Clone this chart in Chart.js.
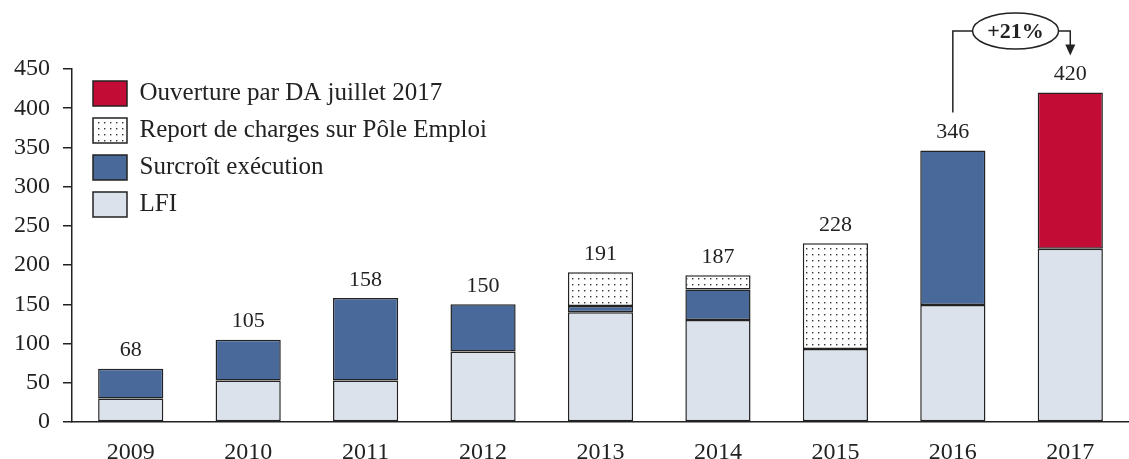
<!doctype html>
<html>
  <head>
    <meta charset="utf-8">
    <script src="https://cdnjs.cloudflare.com/ajax/libs/Chart.js/4.4.1/chart.umd.js"></script>
    <style>
      body { margin: 0; background: #fff; }
      #wrap { width: 1129px; height: 459px; }
    </style>
    <script>
      let years = ['2009','2010','2011','2012','2013','2014','2015','2016','2017'];
      let lfi        = [30, 53, 53, 90, 140, 130, 93, 149, 221];
      let surcroit   = [38, 52, 105, 60, 8, 39, null, 197, null];
      let report     = [null, null, null, null, 43, 18, 135, null, null];
      let ouverture  = [null, null, null, null, null, null, null, null, 199];
      let totals     = [68, 105, 158, 150, 191, 187, 228, 346, 420];
      let yTicks     = [0, 50, 100, 150, 200, 250, 300, 350, 400, 450];
      let growthText = '+21%';
      let growthFrom = 7, growthTo = 8;

      let serif = '"Liberation Serif", "DejaVu Serif", serif';
      let ink = '#222';

      function dots(){
        let c = document.createElement('canvas');
        c.width = 6; c.height = 6;
        let g = c.getContext('2d');
        g.fillStyle = '#fff';
        g.fillRect(0, 0, 6, 6);
        g.fillStyle = '#333';
        g.fillRect(2, 2, 1.4, 1.4);
        return g.createPattern(c, 'repeat');
      }

      // totals above bars and the +21% bubble
      let extras = {
        id: 'extras',
        afterLayout(chart){
          // legend sits inside the plot, a bit off the axis
          let l = chart.legend, h = l.height;
          l.left += 9;
          l.right += 9;
          l.top = chart.chartArea.top;
          l.bottom = l.top + h;
        },
        afterDraw(chart){
          let ctx = chart.ctx, x = chart.scales.x, y = chart.scales.y;
          ctx.save();
          ctx.fillStyle = ink;
          ctx.font = '22px ' + serif;
          ctx.textAlign = 'center';
          ctx.textBaseline = 'middle';
          totals.forEach((t, i) => {
            ctx.fillText(String(t), x.getPixelForValue(i), y.getPixelForValue(t) - 18);
          });

          let x1 = x.getPixelForValue(growthFrom), x2 = x.getPixelForValue(growthTo);
          let cx = (x1 + x2) / 2 + 4, cy = 31, rx = 43, ry = 18;
          ctx.strokeStyle = ink;
          ctx.lineWidth = 1.5;
          ctx.beginPath();
          ctx.ellipse(cx, cy, rx, ry, 0, 0, Math.PI * 2);
          ctx.stroke();
          ctx.beginPath();
          ctx.moveTo(cx - rx, cy);
          ctx.lineTo(x1, cy);
          ctx.lineTo(x1, y.getPixelForValue(totals[growthFrom]) - 38);
          ctx.moveTo(cx + rx, cy);
          ctx.lineTo(x2, cy);
          let tip = y.getPixelForValue(totals[growthTo]) - 37;
          ctx.lineTo(x2, tip - 10);
          ctx.stroke();
          ctx.beginPath();
          ctx.moveTo(x2 - 5, tip - 11);
          ctx.lineTo(x2 + 5, tip - 11);
          ctx.lineTo(x2, tip);
          ctx.closePath();
          ctx.fill();
          ctx.font = 'bold 22px ' + serif;
          ctx.fillText(growthText, cx, cy + 1);
          ctx.restore();
        }
      };

      let chart1;
      function startPage(){
        let border = { borderColor: ink, borderWidth: 1.5, borderSkipped: false };
        chart1 = new Chart(document.getElementById('c1'), {
          type: 'bar',
          data: {
            labels: years,
            datasets: [
              Object.assign({ label: 'LFI', data: lfi, backgroundColor: '#dbe2ec' }, border),
              Object.assign({ label: 'Surcroît exécution', data: surcroit, backgroundColor: '#48699a' }, border),
              Object.assign({ label: 'Report de charges sur Pôle Emploi', data: report, backgroundColor: dots() }, border),
              Object.assign({ label: 'Ouverture par DA juillet 2017', data: ouverture, backgroundColor: '#c20c36' }, border)
            ]
          },
          options: {
            responsive: true,
            maintainAspectRatio: false,
            animation: false,
            barPercentage: 0.555,
            categoryPercentage: 1,
            layout: { padding: { top: 69, left: 0, right: 0, bottom: 0 } },
            plugins: {
              tooltip: { enabled: false },
              legend: {
                position: 'chartArea',
                align: 'start',
                reverse: true,
                labels: {
                  boxWidth: 34,
                  boxHeight: 25,
                  padding: 12,
                  color: ink,
                  font: { family: serif, size: 25 }
                }
              }
            },
            scales: {
              x: {
                stacked: true,
                grid: { display: false },
                border: { display: true, color: ink, width: 1.5 },
                ticks: { color: ink, padding: 8, font: { family: serif, size: 24 } },
                afterFit(s){ s.height = 37; }
              },
              y: {
                stacked: true,
                min: 0,
                max: 450,
                afterBuildTicks(s){ s.ticks = yTicks.map(v => ({ value: v })); },
                grid: { drawOnChartArea: false, drawTicks: true, tickLength: 9, color: ink, lineWidth: 1.5 },
                border: { display: true, color: ink, width: 1.5 },
                ticks: { color: ink, padding: 13, font: { family: serif, size: 24 } },
                afterFit(s){ s.width = 72; }
              }
            }
          },
          plugins: [extras]
        });
      }
    </script>
  </head>
  <body onload="startPage()">
    <div id="wrap">
      <canvas id="c1"></canvas>
    </div>
  </body>
</html>
